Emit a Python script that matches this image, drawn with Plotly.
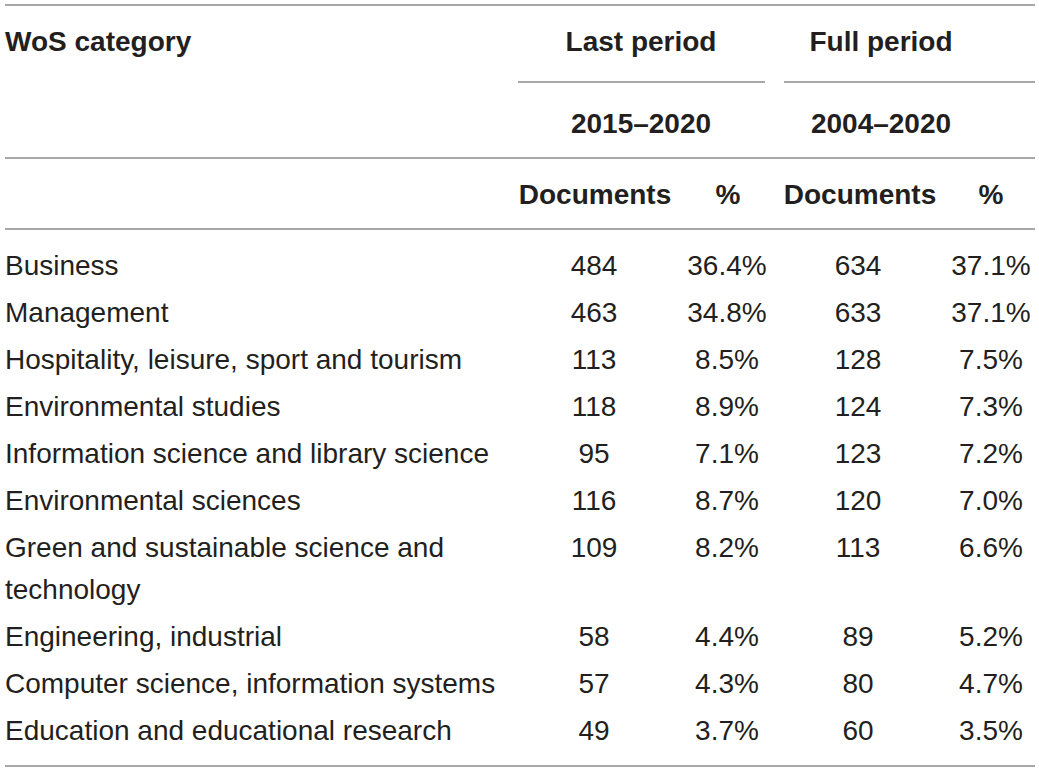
import plotly.graph_objects as go

# ---- data ----
categories = [
    "Business",
    "Management",
    "Hospitality, leisure, sport and tourism",
    "Environmental studies",
    "Information science and library science",
    "Environmental sciences",
    "Green and sustainable science and<br>technology",
    "Engineering, industrial",
    "Computer science, information systems",
    "Education and educational research",
]
docs_last = [484, 463, 113, 118, 95, 116, 109, 58, 57, 49]
pct_last = [36.4, 34.8, 8.5, 8.9, 7.1, 8.7, 8.2, 4.4, 4.3, 3.7]
docs_full = [634, 633, 128, 124, 123, 120, 113, 89, 80, 60]
pct_full = [37.1, 37.1, 7.5, 7.3, 7.2, 7.0, 6.6, 5.2, 4.7, 3.5]

header_cat = "WoS category"
header_periods = ["Last period", "Full period"]
header_years = ["2015–2020", "2004–2020"]
header_cols = ["Documents", "%", "Documents", "%"]

# ---- layout constants (positions / styles) ----
W, H = 1039, 772
FONT = "Liberation Sans, Arial, sans-serif"
FS = 28
TXT = "#231f20"
RULE = "#8a8a8a"
X_LEFT, X_RIGHT = 5, 1035
X_CAT = 5
X_COLS = [594, 727, 858, 991]
X_HEAD_COLS = [595, 728, 860, 991]
X_GROUPS = [641, 881]
GROUP_SPANS = [(518, 765), (784, 1035)]
Y_H1, Y_H2, Y_H3 = 44, 126, 197
Y_RULES_FULL = [5, 158, 229, 766]
Y_RULE_PART = 82
Y_ROW0 = 268
ROW_H = 47
LINE_H = 42

# compute row y positions
row_y = []
y = Y_ROW0
for c in categories:
    row_y.append(y)
    y += ROW_H + (c.count("<br>")) * LINE_H

# category lines split
cat_x, cat_y, cat_t = [], [], []
for c, ry in zip(categories, row_y):
    for k, part in enumerate(c.split("<br>")):
        cat_x.append(X_CAT)
        cat_y.append(ry + k * LINE_H)
        cat_t.append(part)

fig = go.Figure()

def text_trace(xs, ys, texts, pos="middle center", bold=False):
    fig.add_trace(go.Scatter(
        x=xs, y=ys, text=[f"<b>{t}</b>" if bold else t for t in texts],
        mode="text", textposition=pos,
        textfont=dict(family=FONT, size=FS, color=TXT),
        hoverinfo="skip", showlegend=False, cliponaxis=False,
    ))

# headers
text_trace([X_CAT], [Y_H1], [header_cat], pos="middle right", bold=True)
text_trace(X_GROUPS, [Y_H1] * 2, header_periods, bold=True)
text_trace(X_GROUPS, [Y_H2] * 2, header_years, bold=True)
text_trace(X_HEAD_COLS, [Y_H3] * 4, header_cols, bold=True)

# body
text_trace(cat_x, cat_y, cat_t, pos="middle right")
text_trace([X_COLS[0]] * len(row_y), row_y, [str(v) for v in docs_last])
text_trace([X_COLS[1]] * len(row_y), row_y, [f"{v:.1f}%" for v in pct_last])
text_trace([X_COLS[2]] * len(row_y), row_y, [str(v) for v in docs_full])
text_trace([X_COLS[3]] * len(row_y), row_y, [f"{v:.1f}%" for v in pct_full])

# rules
shapes = []
for yy in Y_RULES_FULL:
    shapes.append(dict(type="line", xref="x", yref="y", x0=X_LEFT, x1=X_RIGHT,
                       y0=yy, y1=yy, line=dict(color=RULE, width=1.5)))
for a, b in GROUP_SPANS:
    shapes.append(dict(type="line", xref="x", yref="y", x0=a, x1=b,
                       y0=Y_RULE_PART, y1=Y_RULE_PART, line=dict(color=RULE, width=1.5)))

fig.update_layout(
    width=W, height=H, margin=dict(l=0, r=0, t=0, b=0),
    paper_bgcolor="white", plot_bgcolor="white",
    xaxis=dict(range=[0, W], visible=False, fixedrange=True),
    yaxis=dict(range=[H, 0], visible=False, fixedrange=True),
    shapes=shapes,
)

fig.write_html(
    "out.html",
    config={"displayModeBar": False},
    post_script="document.body.style.margin='0';document.body.style.overflow='hidden';",
)
